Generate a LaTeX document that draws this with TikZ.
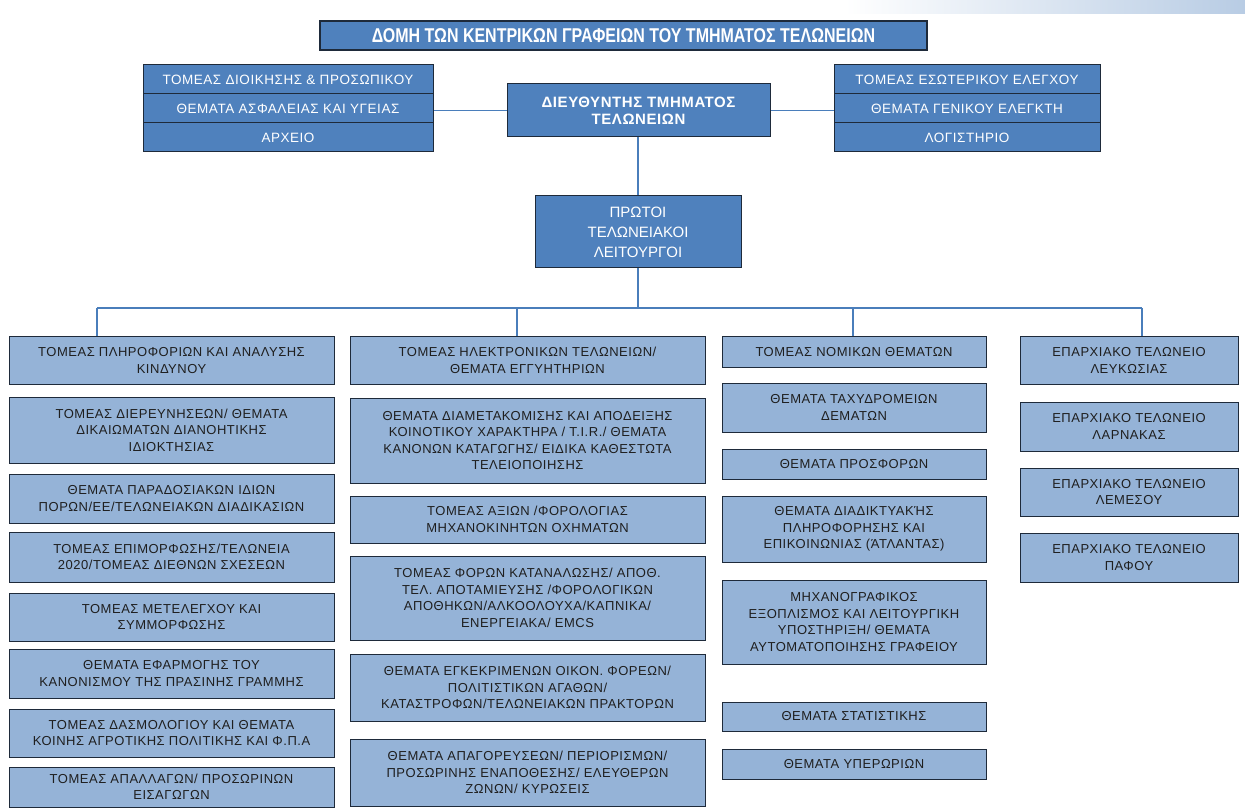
\documentclass[tikz,border=0pt]{standalone}
\usepackage{fontspec}
\setmainfont{Liberation Sans}
\newfontfamily\headfont[FakeStretch=0.8]{Liberation Sans}
\newfontfamily\widefont[LetterSpace=4]{Liberation Sans}
\usetikzlibrary{positioning, calc}

\definecolor{chiefblue}{HTML}{4F81BD}
\definecolor{unitblue}{HTML}{95B3D7}
\definecolor{linkblue}{HTML}{4A7EBB}
\definecolor{boxline}{HTML}{1E2A3A}
\definecolor{unittext}{HTML}{1F1F1F}
\definecolor{bandblue}{HTML}{B8CCE4}

\tikzset{
    chief/.style={draw=boxline, fill=chiefblue, text=white, line width=1pt, inner sep=0pt, align=center},
    unit/.style={draw=boxline, fill=unitblue, text=unittext, line width=1pt, inner sep=0pt, align=center,
        font=\widefont\fontsize{13}{16.5}\selectfont},
    colA/.style={unit, minimum width=325},
    colB/.style={unit, minimum width=355},
    colC/.style={unit, minimum width=264},
    colD/.style={unit, minimum width=218},
    stackL/.style={chief, minimum width=290, minimum height=29, font=\widefont\fontsize{13.5}{15}\selectfont},
    stackR/.style={chief, minimum width=266, minimum height=29, font=\widefont\fontsize{13.5}{15}\selectfont},
    link/.style={draw=linkblue, line width=1.3pt},
}

\begin{document}
\begin{tikzpicture}[x=1pt, y=-1pt]
    \useasboundingbox (0,0) rectangle (1245,810);
    \shade[left color=white, right color=bandblue] (845,0) rectangle (1245,14);

    % header
    \node[chief, minimum width=607, minimum height=29, line width=1.4pt, font=\headfont\bfseries\fontsize{20}{22}\selectfont] (title) at (623.5,35.5)
        {ΔΟΜΗ ΤΩΝ ΚΕΝΤΡΙΚΩΝ ΓΡΑΦΕΙΩΝ ΤΟΥ ΤΜΗΜΑΤΟΣ ΤΕΛΩΝΕΙΩΝ};

    \node[stackL] (l1) at (288,79.5) {ΤΟΜΕΑΣ ΔΙΟΙΚΗΣΗΣ \& ΠΡΟΣΩΠΙΚΟΥ};
    \node[stackL] (l2) at (288,108.5) {ΘΕΜΑΤΑ ΑΣΦΑΛΕΙΑΣ ΚΑΙ ΥΓΕΙΑΣ};
    \node[stackL] (l3) at (288,137.5) {ΑΡΧΕΙΟ};

    \node[stackR] (r1) at (967,79.5) {ΤΟΜΕΑΣ ΕΣΩΤΕΡΙΚΟΥ ΕΛΕΓΧΟΥ};
    \node[stackR] (r2) at (967,108.5) {ΘΕΜΑΤΑ ΓΕΝΙΚΟΥ ΕΛΕΓΚΤΗ};
    \node[stackR] (r3) at (967,137.5) {ΛΟΓΙΣΤΗΡΙΟ};

    \node[chief, minimum width=263, minimum height=53, font=\widefont\bfseries\fontsize{15}{17}\selectfont] (dir) at (638.5,110.5)
        {ΔΙΕΥΘΥΝΤΗΣ ΤΜΗΜΑΤΟΣ\\ΤΕΛΩΝΕΙΩΝ};
    \node[chief, minimum width=206, minimum height=72, font=\fontsize{15}{20}\selectfont] (pt) at (638,232)
        {ΠΡΩΤΟΙ\\ΤΕΛΩΝΕΙΑΚΟΙ\\ΛΕΙΤΟΥΡΓΟΙ};

    % first column
    \node[colA, minimum height=47] (a1) at (171.5,360.5) {ΤΟΜΕΑΣ ΠΛΗΡΟΦΟΡΙΩΝ ΚΑΙ ΑΝΑΛΥΣΗΣ\\ΚΙΝΔΥΝΟΥ};
    \node[colA, minimum height=66] (a2) at (171.5,430) {ΤΟΜΕΑΣ ΔΙΕΡΕΥΝΗΣΕΩΝ/ ΘΕΜΑΤΑ\\ΔΙΚΑΙΩΜΑΤΩΝ ΔΙΑΝΟΗΤΙΚΗΣ\\ΙΔΙΟΚΤΗΣΙΑΣ};
    \node[colA, minimum height=49] (a3) at (171.5,498.5) {ΘΕΜΑΤΑ ΠΑΡΑΔΟΣΙΑΚΩΝ ΙΔΙΩΝ\\ΠΟΡΩΝ/ΕΕ/ΤΕΛΩΝΕΙΑΚΩΝ ΔΙΑΔΙΚΑΣΙΩΝ};
    \node[colA, minimum height=50] (a4) at (171.5,557) {ΤΟΜΕΑΣ ΕΠΙΜΟΡΦΩΣΗΣ/ΤΕΛΩΝΕΙΑ\\2020/ΤΟΜΕΑΣ ΔΙΕΘΝΩΝ ΣΧΕΣΕΩΝ};
    \node[colA, minimum height=48] (a5) at (171.5,617) {ΤΟΜΕΑΣ ΜΕΤΕΛΕΓΧΟΥ ΚΑΙ\\ΣΥΜΜΟΡΦΩΣΗΣ};
    \node[colA, minimum height=49] (a6) at (171.5,673.5) {ΘΕΜΑΤΑ ΕΦΑΡΜΟΓΗΣ ΤΟΥ\\ΚΑΝΟΝΙΣΜΟΥ ΤΗΣ ΠΡΑΣΙΝΗΣ ΓΡΑΜΜΗΣ};
    \node[colA, minimum height=48] (a7) at (171.5,733) {ΤΟΜΕΑΣ ΔΑΣΜΟΛΟΓΙΟΥ ΚΑΙ ΘΕΜΑΤΑ\\ΚΟΙΝΗΣ ΑΓΡΟΤΙΚΗΣ ΠΟΛΙΤΙΚΗΣ ΚΑΙ Φ.Π.Α};
    \node[colA, minimum height=40] (a8) at (171.5,787) {ΤΟΜΕΑΣ ΑΠΑΛΛΑΓΩΝ/ ΠΡΟΣΩΡΙΝΩΝ\\ΕΙΣΑΓΩΓΩΝ};

    % second column
    \node[colB, minimum height=47] (b1) at (527.5,360.5) {ΤΟΜΕΑΣ ΗΛΕΚΤΡΟΝΙΚΩΝ ΤΕΛΩΝΕΙΩΝ/\\ΘΕΜΑΤΑ ΕΓΓΥΗΤΗΡΙΩΝ};
    \node[colB, minimum height=85] (b2) at (527.5,440.5) {ΘΕΜΑΤΑ ΔΙΑΜΕΤΑΚΟΜΙΣΗΣ ΚΑΙ ΑΠΟΔΕΙΞΗΣ\\ΚΟΙΝΟΤΙΚΟΥ ΧΑΡΑΚΤΗΡΑ / T.I.R./ ΘΕΜΑΤΑ\\ΚΑΝΟΝΩΝ ΚΑΤΑΓΩΓΗΣ/ ΕΙΔΙΚΑ ΚΑΘΕΣΤΩΤΑ\\ΤΕΛΕΙΟΠΟΙΗΣΗΣ};
    \node[colB, minimum height=47] (b3) at (527.5,519.5) {ΤΟΜΕΑΣ ΑΞΙΩΝ /ΦΟΡΟΛΟΓΙΑΣ\\ΜΗΧΑΝΟΚΙΝΗΤΩΝ ΟΧΗΜΑΤΩΝ};
    \node[colB, minimum height=84] (b4) at (527.5,598) {ΤΟΜΕΑΣ ΦΟΡΩΝ ΚΑΤΑΝΑΛΩΣΗΣ/ ΑΠΟΘ.\\ΤΕΛ. ΑΠΟΤΑΜΙΕΥΣΗΣ /ΦΟΡΟΛΟΓΙΚΩΝ\\ΑΠΟΘΗΚΩΝ/ΑΛΚΟΟΛΟΥΧΑ/ΚΑΠΝΙΚΑ/\\ΕΝΕΡΓΕΙΑΚΑ/ EMCS};
    \node[colB, minimum height=67] (b5) at (527.5,687.5) {ΘΕΜΑΤΑ ΕΓΚΕΚΡΙΜΕΝΩΝ ΟΙΚΟΝ. ΦΟΡΕΩΝ/\\ΠΟΛΙΤΙΣΤΙΚΩΝ ΑΓΑΘΩΝ/\\ΚΑΤΑΣΤΡΟΦΩΝ/ΤΕΛΩΝΕΙΑΚΩΝ ΠΡΑΚΤΟΡΩΝ};
    \node[colB, minimum height=67] (b6) at (527.5,772.5) {ΘΕΜΑΤΑ ΑΠΑΓΟΡΕΥΣΕΩΝ/ ΠΕΡΙΟΡΙΣΜΩΝ/\\ΠΡΟΣΩΡΙΝΗΣ ΕΝΑΠΟΘΕΣΗΣ/ ΕΛΕΥΘΕΡΩΝ\\ΖΩΝΩΝ/ ΚΥΡΩΣΕΙΣ};

    % third column
    \node[colC, minimum height=30] (c1) at (854,352) {ΤΟΜΕΑΣ ΝΟΜΙΚΩΝ ΘΕΜΑΤΩΝ};
    \node[colC, minimum height=49] (c2) at (854,407.5) {ΘΕΜΑΤΑ ΤΑΧΥΔΡΟΜΕΙΩΝ\\ΔΕΜΑΤΩΝ};
    \node[colC, minimum height=30] (c3) at (854,464) {ΘΕΜΑΤΑ ΠΡΟΣΦΟΡΩΝ};
    \node[colC, minimum height=66] (c4) at (854,529) {ΘΕΜΑΤΑ ΔΙΑΔΙΚΤΥΑΚΉΣ\\ΠΛΗΡΟΦΟΡΗΣΗΣ ΚΑΙ\\ΕΠΙΚΟΙΝΩΝΙΑΣ (ΆΤΛΑΝΤΑΣ)};
    \node[colC, minimum height=84] (c5) at (854,622) {ΜΗΧΑΝΟΓΡΑΦΙΚΟΣ\\ΕΞΟΠΛΙΣΜΟΣ ΚΑΙ ΛΕΙΤΟΥΡΓΙΚΗ\\ΥΠΟΣΤΗΡΙΞΗ/ ΘΕΜΑΤΑ\\ΑΥΤΟΜΑΤΟΠΟΙΗΣΗΣ ΓΡΑΦΕΙΟΥ};
    \node[colC, minimum height=29] (c6) at (854,716.5) {ΘΕΜΑΤΑ ΣΤΑΤΙΣΤΙΚΗΣ};
    \node[colC, minimum height=30] (c7) at (854,764) {ΘΕΜΑΤΑ ΥΠΕΡΩΡΙΩΝ};

    % fourth column
    \node[colD, minimum height=47] (d1) at (1129,360.5) {ΕΠΑΡΧΙΑΚΟ ΤΕΛΩΝΕΙΟ\\ΛΕΥΚΩΣΙΑΣ};
    \node[colD, minimum height=49] (d2) at (1129,426.5) {ΕΠΑΡΧΙΑΚΟ ΤΕΛΩΝΕΙΟ\\ΛΑΡΝΑΚΑΣ};
    \node[colD, minimum height=48] (d3) at (1129,492) {ΕΠΑΡΧΙΑΚΟ ΤΕΛΩΝΕΙΟ\\ΛΕΜΕΣΟΥ};
    \node[colD, minimum height=49] (d4) at (1129,557.5) {ΕΠΑΡΧΙΑΚΟ ΤΕΛΩΝΕΙΟ\\ΠΑΦΟΥ};

    % connectors
    \coordinate (busA) at (97,308);
    \coordinate (busB) at (517,308);
    \coordinate (busC) at (853,308);
    \coordinate (busD) at (1142,308);

    \draw[link] (dir.west) -- (dir.west -| l2.east);
    \draw[link] (dir.east) -- (dir.east -| r2.west);
    \draw[link] (dir.south -| pt.north) -- (pt.north);
    \draw[link] (pt.south) -- (pt.south |- busA);
    \draw[link] (busA) -- (busD);
    \draw[link] (busA) -- (a1.north -| busA);
    \draw[link] (busB) -- (b1.north -| busB);
    \draw[link] (busC) -- (c1.north -| busC);
    \draw[link] (busD) -- (d1.north -| busD);
\end{tikzpicture}
\end{document}
